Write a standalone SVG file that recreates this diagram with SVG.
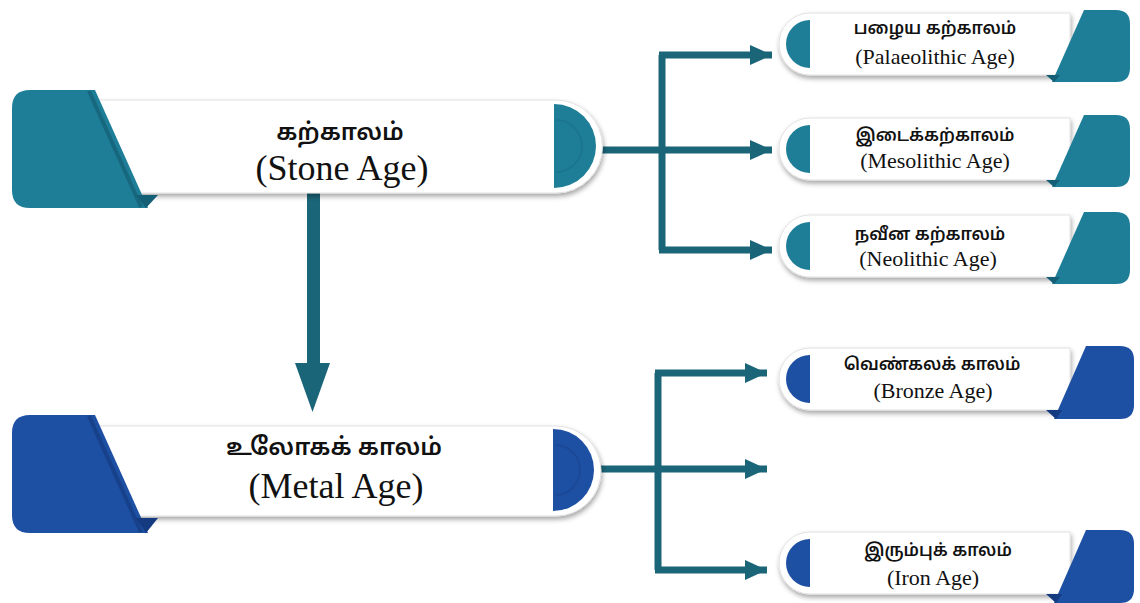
<svg xmlns="http://www.w3.org/2000/svg" width="1140" height="603" viewBox="0 0 1140 603">
<defs>
<style>
.bar{fill:#ffffff;stroke:#e2e2e2;stroke-width:1;filter:url(#sh)}
.teal{fill:#1e7e98}
.tealD{fill:#145f75}
.blue{fill:#1d4fa3}
.blueD{fill:#143a80}
.stripeT{stroke:#17687e;stroke-width:4;fill:none}
.stripeB{stroke:#17418a;stroke-width:4;fill:none}
.conn{stroke:#1b6578;stroke-width:7;fill:none}
.ta{font-family:'Noto Sans Tamil','Lohit Tamil','Noto Sans',sans-serif;font-weight:600;fill:#111;text-anchor:middle}
.en{font-family:'Liberation Serif',serif;fill:#111;text-anchor:middle}
.big.ta{font-size:24px}
.big.en{font-size:36px}
.sm.ta{font-size:17px}
.sm.en{font-size:22px}
</style>
<filter id="sh" x="-10%" y="-30%" width="120%" height="170%">
<feDropShadow dx="1" dy="3" stdDeviation="2.5" flood-color="#000" flood-opacity="0.35"/>
</filter>
<marker id="ah" markerUnits="userSpaceOnUse" markerWidth="24" markerHeight="20" refX="22" refY="10" orient="auto">
<path d="M0,0 L22,10 L0,20 Z" fill="#1b6578"/>
</marker>
</defs>
<rect width="1140" height="603" fill="#ffffff"/>

<g id="connectors">
<path class="conn" d="M596,150 H662"/>
<path class="conn" d="M662,55 V250"/>
<path class="conn" d="M659,55 H772" marker-end="url(#ah)"/>
<path class="conn" d="M662,150 H772" marker-end="url(#ah)"/>
<path class="conn" d="M659,250 H772" marker-end="url(#ah)"/>
<path d="M307,193 H320 V363 H330 L312.5,412 L295,363 H307 Z" fill="#1b6578"/>
<path class="conn" d="M595,469 H658"/>
<path class="conn" d="M658,373 V570"/>
<path class="conn" d="M655,373 H767" marker-end="url(#ah)"/>
<path class="conn" d="M658,469 H767" marker-end="url(#ah)"/>
<path class="conn" d="M655,570 H767" marker-end="url(#ah)"/>
</g>

<g id="stone">
<path class="bar" d="M80,100 H556 A46.5,46.5 0 0 1 556,193 H80 Z"/>
<path class="teal" d="M554,104 A42,42 0 0 1 554,188 Z"/>
<path d="M556,120 A26,26 0 0 1 556,172" stroke="#1a7088" stroke-width="2" fill="none" opacity="0.6"/>
<path class="teal" d="M30,90 H95 L148,208 H30 Q12,208 12,190 V108 Q12,90 30,90 Z"/>
<path class="stripeT" d="M89,91 L141,207"/>
<path class="tealD" d="M136,195 H158 L146,208 Z"/>
<text class="ta big" x="340" y="140">கற்காலம்</text>
<text class="en big" x="342" y="180">(Stone Age)</text>
</g>

<g id="metal">
<path class="bar" d="M80,426 H556 A45,45 0 0 1 556,516 H80 Z"/>
<path class="blue" d="M553,429 A41,41 0 0 1 553,511 Z"/>
<path d="M555,445 A25,25 0 0 1 555,495" stroke="#1a468f" stroke-width="2" fill="none" opacity="0.6"/>
<path class="blue" d="M30,415 H95 L148,533 H30 Q12,533 12,515 V433 Q12,415 30,415 Z"/>
<path class="stripeB" d="M89,416 L141,532"/>
<path class="blueD" d="M136,518 H158 L146,533 Z"/>
<text class="ta big" x="334" y="455">உலோகக் காலம்</text>
<text class="en big" x="336" y="498">(Metal Age)</text>
</g>

<g id="palaeolithic">
<path class="bar" d="M810,13 H1070 V75 H810 A31,31 0 0 1 810,13 Z"/>
<path class="teal" d="M810,20 A24,24 0 0 0 810,68 Z"/>
<path class="teal" d="M1084,10 H1116 Q1130,10 1130,24 V68 Q1130,82 1116,82 H1052 Z"/>
<path class="tealD" d="M1046,75 H1060 L1054,82 Z"/>
<text class="ta sm" x="935" y="34">பழைய கற்காலம்</text>
<text class="en sm" x="935" y="64">(Palaeolithic Age)</text>
</g>

<g id="mesolithic">
<path class="bar" d="M810,118 H1070 V180 H810 A31,31 0 0 1 810,118 Z"/>
<path class="teal" d="M810,125 A24,24 0 0 0 810,173 Z"/>
<path class="teal" d="M1084,115 H1116 Q1130,115 1130,129 V173 Q1130,187 1116,187 H1052 Z"/>
<path class="tealD" d="M1046,180 H1060 L1054,187 Z"/>
<text class="ta sm" x="935" y="141">இடைக்கற்காலம்</text>
<text class="en sm" x="935" y="168">(Mesolithic Age)</text>
</g>

<g id="neolithic">
<path class="bar" d="M810,215 H1070 V277 H810 A31,31 0 0 1 810,215 Z"/>
<path class="teal" d="M810,222 A24,24 0 0 0 810,270 Z"/>
<path class="teal" d="M1084,212 H1116 Q1130,212 1130,226 V270 Q1130,284 1116,284 H1052 Z"/>
<path class="tealD" d="M1046,277 H1060 L1054,284 Z"/>
<text class="ta sm" x="930" y="240">நவீன கற்காலம்</text>
<text class="en sm" x="928" y="266">(Neolithic Age)</text>
</g>

<g id="bronze">
<path class="bar" d="M810,348 H1070 V410 H810 A31,31 0 0 1 810,348 Z"/>
<path class="blue" d="M810,355 A24,24 0 0 0 810,403 Z"/>
<path class="blue" d="M1086,346 H1120 Q1134,346 1134,360 V405 Q1134,419 1120,419 H1054 Z"/>
<path class="blueD" d="M1046,410 H1062 L1056,419 Z"/>
<text class="ta sm" x="932" y="370">வெண்கலக் காலம்</text>
<text class="en sm" x="933" y="398">(Bronze Age)</text>
</g>

<g id="iron">
<path class="bar" d="M810,532 H1070 V594 H810 A31,31 0 0 1 810,532 Z"/>
<path class="blue" d="M810,539 A24,24 0 0 0 810,587 Z"/>
<path class="blue" d="M1086,530 H1120 Q1134,530 1134,544 V589 Q1134,603 1120,603 H1054 Z"/>
<path class="blueD" d="M1046,594 H1062 L1056,603 Z"/>
<text class="ta sm" x="938" y="556">இரும்புக் காலம்</text>
<text class="en sm" x="933" y="585">(Iron Age)</text>
</g>
</svg>
